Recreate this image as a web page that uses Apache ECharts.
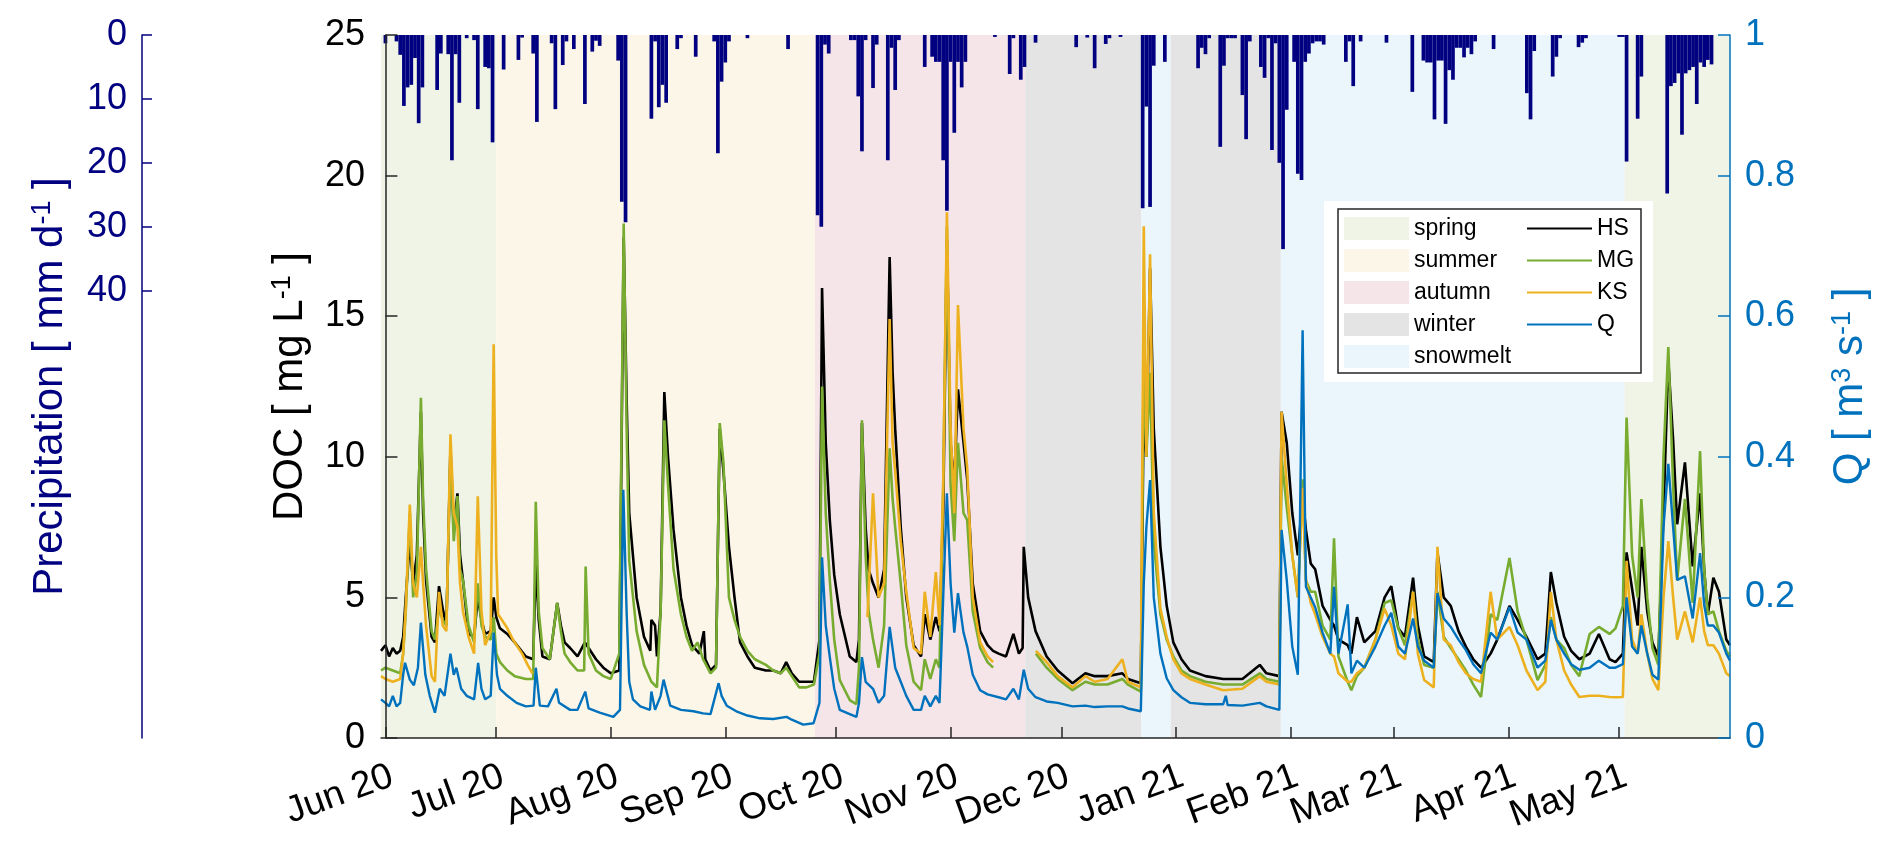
<!DOCTYPE html>
<html>
<head>
<meta charset="utf-8">
<script src="https://cdn.jsdelivr.net/npm/echarts@6/dist/echarts.min.js"></script>
<style>
html,body{margin:0;padding:0;background:#fff;}
#chart{width:1892px;height:849px;}
</style>
</head>
<body>
<div id="chart"></div>
<script>
// x values are days since 2020-06-01
const monthTicks = [0,30,61,92,122,153,183,214,245,273,304,334];
const monthLabels = ['Jun 20','Jul 20','Aug 20','Sep 20','Oct 20','Nov 20','Dec 20','Jan 21','Feb 21','Mar 21','Apr 21','May 21'];
const precipTicks = [0,10,20,30,40];

// season spans [startDay, endDay]
const springSpans = [[-1.2,30],[335.4,364]];
const summerSpans = [[30,116.3]];
const autumnSpans = [[116.3,173.2]];
const winterSpans = [[173.2,204.6],[212.5,242.4]];
const snowmeltSpans = [[204.6,212.5],[242.4,335.4]];

// daily precipitation (mm/d)
const precipDays = [0,3,4,5,6,7,8,9,10,14,15,17,18,19,20,22,24,25,27,28,29,32,36,37,40,41,45,46,48,49,51,54,56,57,58,63,64,65,72,73,74,75,76,79,80,84,89,90,91,92,93,98,109,117,118,119,120,126,127,128,129,130,132,133,136,137,138,139,146,148,149,150,151,152,153,154,155,156,157,165,169,170,172,173,176,187,190,192,195,196,199,205,206,207,208,211,220,221,222,223,226,227,228,229,230,232,233,234,237,238,239,240,241,242,243,244,246,247,248,249,250,251,252,253,254,260,261,262,264,271,278,281,282,283,284,285,286,287,288,289,290,291,292,293,294,295,300,309,310,311,316,317,318,323,324,325,334,335,336,339,340,347,348,349,350,351,352,353,354,355,356,357,358,359];
const precipMM = [1.3,1.0,3.1,11.1,8.2,7.8,3.6,13.8,8.2,8.6,2.9,3.0,19.6,3.0,10.6,0.5,0.8,11.6,5.0,5.2,16.8,5.4,3.9,0.4,2.9,13.6,1.3,11.6,4.7,1.0,2.2,10.8,2.6,0.9,1.7,4.0,26.1,29.3,13.1,1.0,11.3,7.8,10.6,2.2,0.5,3.4,1.0,18.5,7.3,4.3,1.0,0.5,2.2,28.2,30.0,1.5,2.9,0.8,0.8,9.6,18.2,0.8,8.3,1.5,19.6,2.0,8.6,0.8,5.0,3.4,4.2,4.2,19.6,27.5,4.2,15.3,4.2,8.2,4.2,0.3,6.1,0.5,7.0,5.0,1.2,1.9,0.4,5.2,1.4,0.5,0.3,27.1,11.2,26.9,4.8,4.2,5.2,2.0,3.0,0.5,17.5,4.8,0.5,0.5,0.5,9.4,16.3,1.0,5.0,6.7,0.5,18.0,1.3,20.0,33.5,11.7,4.2,21.7,22.7,4.2,2.9,1.3,1.0,1.0,1.5,4.2,1.0,8.0,1.0,1.2,8.9,4.0,4.3,4.3,13.2,4.0,4.0,13.9,5.5,7.0,2.0,2.0,3.5,2.0,3.0,1.0,2.2,9.1,13.2,2.5,6.5,3.4,0.5,1.9,1.2,0.5,0.3,0.3,19.8,13.1,6.5,24.8,8.0,7.5,6.0,15.6,6.0,5.5,5.0,10.8,4.3,5.0,3.9,4.6];

// DOC (mg/L) as [day, value]
const hsDOC = [[-1.2,3.1],[0,3.3],[1,2.9],[2,3.2],[3,3.0],[4,3.1],[4.8,3.6],[5.5,5.0],[6.6,7.0],[7.5,5.5],[8.5,6.5],[9.6,11.6],[10.2,8.0],[11,5.6],[12.5,3.6],[13.4,3.4],[14.5,5.4],[15.5,4.6],[16.5,4.0],[17.6,10.3],[18.5,7.5],[19.5,8.7],[20.2,6.5],[21,5.6],[22.5,3.7],[24,3.6],[25,5.0],[26,4.2],[27,3.7],[28.5,3.8],[29.3,5.0],[30,4.3],[31,3.9],[33,3.7],[35,3.4],[38,2.9],[40,2.8],[40.7,6.2],[41.5,4.2],[42.5,2.9],[44.5,2.8],[46.5,4.8],[47.5,4.0],[48.5,3.4],[50,3.2],[52,2.9],[54,3.4],[55,3.2],[57,2.8],[59,2.5],[61,2.3],[63.3,2.4],[64.5,17.8],[65.3,12.0],[66,8.0],[68,5.0],[70,3.6],[71.7,3.1],[72,4.2],[73,4.0],[73.5,2.9],[74.5,4.5],[75.5,12.3],[76.5,10.0],[78,7.4],[80,5.0],[81.5,4.0],[83,3.3],[85,3.0],[86.2,3.8],[86.6,2.8],[88,2.4],[89.5,2.6],[90.5,11.0],[91.5,9.5],[93,6.8],[94.5,5.0],[96,3.4],[98,2.9],[100,2.5],[103,2.4],[105,2.4],[107,2.3],[108.5,2.7],[110,2.3],[112,2.0],[114,2.0],[116,2.0],[117.5,3.5],[118.2,16.0],[119.2,10.5],[120.3,7.75],[121.5,5.8],[123,4.4],[125.7,2.9],[127.5,2.7],[128.2,3.5],[129,11.2],[130,7.5],[130.8,6.0],[132,5.5],[133.5,5.0],[135,6.0],[136.5,17.1],[137.3,13.0],[138,11.0],[139.5,7.5],[141,5.0],[143,3.3],[145,2.9],[146,4.4],[147.5,3.5],[149,4.3],[150,3.8],[151,8.0],[152,17.7],[153,10.5],[154,9.0],[155,12.4],[156.5,10.5],[157.5,9.2],[159,5.5],[161,3.8],[163,3.3],[164.5,3.1],[166,3.0],[168,2.9],[170,3.7],[171.5,3.0],[172.5,3.2],[172.8,6.8],[174,5.0],[176,3.8],[179,2.9],[182,2.4],[186,1.95],[189.5,2.3],[192,2.2],[195.5,2.2],[199.5,2.3],[201,2.1],[204.5,1.95],[205.3,12.0],[206,10.0],[207,16.7],[208,11.0],[209.8,6.8],[211.5,4.7],[213.3,3.4],[215.5,2.8],[217.8,2.4],[222,2.2],[226.8,2.1],[232,2.1],[236.7,2.6],[238.5,2.3],[242,2.2],[242.6,11.6],[244,10.5],[245.5,8.0],[247,6.5],[248.3,8.6],[249.2,7.4],[250.5,6.2],[251.7,6.0],[253.7,4.7],[255.8,4.2],[256.8,4.0],[258,3.5],[260.5,3.3],[261.5,3.0],[263,4.3],[265,3.4],[268,3.8],[270.5,5.0],[272.3,5.4],[274.2,3.9],[276,3.6],[278.2,5.7],[279.5,4.0],[281.2,2.9],[283.8,2.7],[284.8,6.6],[286.5,5.0],[288.4,4.7],[290.5,3.8],[292.5,3.25],[294.5,2.8],[296.6,2.5],[299.2,3.0],[301,3.5],[304.3,4.7],[306.5,4.2],[308.9,3.6],[311.9,2.8],[314,3.0],[315.5,5.9],[317,4.8],[319.1,3.6],[321,3.1],[323.2,2.8],[326,3.0],[328.5,3.7],[331.4,2.8],[333,2.7],[335,3.0],[336,6.6],[337.5,5.3],[339,4.0],[340,6.8],[341.6,4.5],[343,3.4],[344.6,2.9],[346,8.0],[347.3,13.4],[348.6,10.6],[349.7,7.6],[351.8,9.8],[353.9,6.1],[355.9,8.7],[357,6.0],[358,4.4],[359.5,5.7],[361,5.2],[363,3.5],[364,3.3]];

const mgDOC = [[-1.2,2.4],[0,2.5],[2,2.4],[4,2.3],[4.8,3.0],[5.5,4.5],[6.6,8.0],[7.5,5.0],[8.5,5.8],[9.6,12.1],[10.2,8.5],[11,6.0],[12.5,3.8],[13.4,3.5],[14.5,4.6],[15.5,4.2],[16.5,4.0],[17.6,10.0],[18.5,7.0],[19.5,8.6],[20.2,6.0],[21,5.6],[22.5,4.0],[24,3.4],[25,5.5],[26,4.0],[27,3.6],[28.5,3.5],[29.3,4.3],[30,3.0],[31,2.7],[33,2.4],[35,2.2],[38,2.1],[40,2.1],[40.7,8.4],[41.5,4.5],[42.5,3.2],[44.5,2.8],[46.5,4.8],[47.5,3.8],[48.5,3.0],[50,2.7],[52,2.4],[53.8,2.4],[54.2,6.1],[55,3.0],[57,2.4],[59,2.2],[61,2.1],[63.3,3.0],[64.5,18.3],[65.3,11.0],[66,6.3],[68,3.8],[70,2.6],[72,2.0],[73.5,1.8],[74.5,4.5],[75.5,11.3],[76.5,9.0],[78,6.0],[80,4.4],[81.5,3.6],[83,3.1],[84.5,3.4],[86,2.8],[88,2.3],[89.5,2.5],[90.5,11.2],[91.5,9.8],[93,5.0],[94.5,4.2],[96,3.6],[98,3.1],[100,2.8],[103,2.6],[105,2.4],[107,2.3],[108.5,2.5],[110,2.2],[112,1.8],[114,1.8],[116,1.9],[117.5,3.0],[118.2,12.5],[119.2,8.0],[120.3,5.6],[121.5,3.5],[123,2.06],[125.7,1.35],[127.5,1.2],[128.2,2.5],[129,11.3],[130,6.5],[130.8,4.5],[132,3.5],[133.5,2.5],[135,4.0],[136.5,10.3],[137.3,8.5],[138,7.5],[139.5,5.5],[141,3.3],[143,2.0],[145,1.7],[146,2.8],[147.5,2.1],[149,2.8],[150,2.5],[151,9.0],[152,18.2],[153,9.0],[154,7.0],[155,10.5],[156.5,8.0],[157.5,7.75],[159,4.5],[161,3.2],[163,2.7],[164.5,2.5],[170,null],[176.1,3.0],[179,2.5],[182,2.1],[186,1.7],[189.5,2.0],[192,1.9],[195.5,1.9],[199.5,2.1],[201,1.9],[204.5,1.65],[205.3,14.0],[206,10.0],[207,13.0],[208,7.0],[209.8,4.4],[211.5,3.5],[213.3,2.9],[215.5,2.4],[217.8,2.2],[222,2.0],[226.8,1.9],[232,1.9],[236.7,2.3],[238.5,2.1],[242,2.0],[242.6,10.0],[244,8.2],[245.5,6.5],[247,5.0],[248.3,9.2],[249.2,5.6],[250.5,5.2],[251.7,5.2],[253.7,4.0],[255.8,3.5],[256.8,7.1],[258,2.9],[260.5,2.0],[261.5,1.7],[263,2.2],[265,2.5],[268,3.5],[270.5,4.8],[272.3,4.9],[274.2,3.9],[276,3.3],[278.2,5.2],[279.5,3.5],[281.2,2.6],[283.8,2.5],[284.8,5.2],[286.5,3.6],[288.4,3.2],[290.5,2.8],[292.5,2.4],[294.5,1.9],[296.6,1.46],[299.2,4.4],[301,4.2],[304.3,6.4],[306.5,4.5],[308.9,3.5],[311.9,2.06],[314,2.6],[315.5,4.3],[317,3.5],[319.1,3.2],[321,2.6],[323.2,2.2],[326,3.7],[328.5,3.95],[331.4,3.7],[333,3.9],[335,4.7],[336,11.4],[337.5,6.5],[339,5.0],[340,8.5],[341.6,5.0],[343,3.2],[344.6,2.6],[346,10.0],[347.3,13.9],[348.6,9.0],[349.7,5.6],[351.8,8.5],[353.9,4.8],[355.9,10.2],[357,6.0],[358,4.4],[359.5,4.5],[361,3.8],[363,3.1],[364,2.9]];

const ksDOC = [[-1.2,2.2],[0,2.1],[2,2.0],[4,2.1],[4.8,3.0],[5.5,4.6],[6.6,8.3],[7.5,5.5],[8.5,5.0],[9.6,6.8],[10.2,5.5],[11,4.0],[12.5,2.2],[13.4,2.0],[14.5,5.2],[15.5,4.0],[16.5,3.8],[17.6,10.8],[18.5,8.0],[19.5,7.5],[20.2,5.5],[21,4.5],[22.5,3.6],[24,3.0],[25,8.6],[26,4.5],[27,3.3],[28.5,3.8],[29.3,14.0],[30,6.5],[30.5,4.4],[31,4.3],[33,3.9],[34.5,3.5],[37,3.0],[38.5,2.6],[39.8,2.3],[80,null],[130.5,4.3],[132,8.7],[133.5,5.0],[135,5.5],[136.5,14.9],[137.3,10.5],[138,9.5],[139.5,7.0],[141,5.2],[143,3.2],[145,3.0],[146,5.2],[147.5,3.6],[149,5.9],[150,4.0],[151,9.0],[152,18.7],[153,11.0],[154,8.0],[155,15.4],[156.5,11.0],[157.5,9.6],[159,5.0],[161,3.4],[163,2.9],[164.5,2.7],[170,null],[176.1,3.1],[179,2.7],[182,2.2],[186,1.8],[189.5,2.2],[192,2.0],[195.5,2.1],[199.5,2.8],[201,2.0],[204.5,1.8],[205.3,18.2],[206,10.0],[207,17.2],[208,8.0],[209.8,4.6],[211.5,3.6],[213.3,2.8],[215.5,2.3],[217.8,2.1],[222,1.9],[226.8,1.7],[232,1.75],[236.7,2.2],[238.5,2.0],[242,1.9],[242.6,11.6],[244,9.0],[245.5,6.5],[247,5.0],[248.3,8.9],[249.2,5.6],[250.5,4.8],[251.7,4.4],[253.7,3.6],[255.8,3.0],[256.8,2.9],[258,2.3],[260.5,2.0],[261.5,2.0],[263,2.3],[265,2.5],[268,3.5],[270.5,4.6],[272.3,4.0],[274.2,3.0],[276,2.8],[278.2,5.2],[279.5,3.0],[281.2,2.06],[283.8,1.8],[284.8,6.8],[286.5,3.5],[288.4,3.3],[290.5,2.7],[292.5,2.3],[294.5,2.1],[296.6,2.0],[299.2,5.2],[301,3.5],[304.3,3.95],[306.5,3.3],[308.9,2.4],[311.9,1.7],[314,2.0],[315.5,5.2],[317,3.5],[319.1,2.4],[321,1.9],[323.2,1.46],[326,1.5],[328.5,1.5],[331.4,1.46],[333,1.45],[335,1.46],[336,6.3],[337.5,3.5],[339,3.0],[340,4.4],[341.6,3.0],[343,2.1],[344.6,1.7],[346,5.0],[347.3,7.0],[348.6,5.0],[349.7,3.5],[351.8,4.5],[353.9,3.4],[355.9,5.0],[357,3.8],[358,3.3],[359.5,3.3],[361,3.0],[363,2.3],[364,2.2]];

// discharge Q (m3/s) as [day, value]
const qDis = [[-1.2,0.055],[0,0.05],[1,0.045],[2,0.06],[3,0.045],[4,0.05],[4.8,0.09],[5.3,0.107],[6.6,0.083],[7.7,0.075],[8.8,0.1],[9.6,0.164],[10.8,0.09],[12,0.06],[13.4,0.036],[14.7,0.07],[16,0.06],[17.6,0.12],[18.5,0.09],[19.2,0.1],[20.5,0.07],[22,0.06],[24,0.055],[25.1,0.107],[26,0.07],[27,0.055],[28.5,0.06],[29.3,0.15],[30.2,0.09],[31,0.07],[33,0.06],[35.5,0.05],[38,0.045],[40.1,0.046],[40.7,0.1],[41.8,0.046],[44,0.045],[46.3,0.07],[47,0.05],[50,0.04],[52,0.04],[54.1,0.066],[55,0.042],[58,0.036],[61.7,0.03],[63.5,0.04],[64.4,0.353],[65.3,0.178],[66,0.08],[67,0.055],[69,0.045],[71.6,0.04],[72,0.066],[73,0.04],[74.5,0.06],[75.3,0.083],[77.1,0.046],[80,0.04],[83.4,0.038],[86,0.035],[88,0.034],[90.2,0.078],[91,0.06],[92.4,0.046],[95,0.038],[98,0.032],[101.4,0.028],[105,0.027],[108.6,0.03],[110,0.026],[113.1,0.019],[115.9,0.021],[117.5,0.05],[118.2,0.257],[119.2,0.16],[120.3,0.115],[121.5,0.07],[123,0.04],[125.7,0.034],[127.5,0.03],[128.2,0.05],[129,0.115],[130,0.08],[132,0.07],[133.5,0.05],[135,0.06],[136.5,0.158],[138,0.1],[139.5,0.08],[141,0.06],[143,0.04],[145,0.04],[146,0.06],[147.5,0.045],[149,0.06],[150,0.05],[151,0.2],[152,0.348],[153,0.22],[154,0.15],[155,0.206],[156.5,0.15],[157.5,0.13],[159,0.09],[161,0.068],[163,0.062],[166,0.058],[168,0.055],[170,0.07],[171.5,0.055],[172.8,0.097],[174,0.07],[176,0.058],[179,0.052],[182,0.05],[186,0.045],[189.5,0.046],[192,0.044],[195.5,0.045],[199.5,0.045],[201,0.042],[204.5,0.038],[205.3,0.22],[206,0.3],[207,0.367],[208,0.2],[209.8,0.12],[211.5,0.085],[213.3,0.068],[215.5,0.058],[217.8,0.05],[222,0.048],[226.8,0.048],[227.5,0.06],[228,0.047],[232,0.046],[236.7,0.05],[238.5,0.045],[242,0.04],[242.6,0.296],[244,0.225],[245.5,0.13],[247,0.09],[248.3,0.58],[249.2,0.215],[250.5,0.2],[251.7,0.186],[253.7,0.15],[255.8,0.12],[256.8,0.215],[258,0.12],[260.5,0.19],[261.5,0.092],[263,0.11],[265,0.1],[268,0.13],[270.5,0.16],[272.3,0.178],[274.2,0.13],[276,0.12],[278.2,0.17],[279.5,0.13],[281.2,0.11],[283.8,0.1],[284.8,0.206],[286.5,0.17],[288.4,0.158],[290.5,0.14],[292.5,0.125],[294.5,0.105],[296.6,0.092],[299.2,0.15],[301,0.14],[304.3,0.186],[306.5,0.15],[308.9,0.14],[311.9,0.1],[314,0.11],[315.5,0.168],[317,0.14],[319.1,0.12],[321,0.105],[323.2,0.097],[326,0.1],[328.5,0.11],[331.4,0.1],[333,0.1],[335,0.105],[336,0.2],[337.5,0.13],[339,0.12],[340,0.16],[341.6,0.12],[343,0.09],[344.6,0.083],[346,0.3],[347.3,0.39],[348.6,0.3],[349.7,0.225],[351.8,0.23],[353.9,0.17],[355.9,0.263],[357,0.19],[358,0.16],[359.5,0.16],[361,0.15],[363,0.12],[364,0.11]];

const FONT = '"Liberation Sans", Arial, Helvetica, sans-serif';
const NAVY = '#000080';
const QBLUE = '#0072BD';
const AXC = '#262626';
const LINE_ICON = 'path://M0,0H65V2.2H0Z';

function renderSpan(params, api) {
  const a = api.coord([api.value(0), 0]);
  const b = api.coord([api.value(1), 0]);
  const cs = params.coordSys;
  return {type: 'rect', shape: {x: a[0], y: cs.y, width: b[0] - a[0], height: cs.height},
          style: {fill: api.visual('color')}};
}
function seasonSeries(name, spans, color) {
  return {name: name, type: 'custom', renderItem: renderSpan, data: spans,
          encode: {x: [0, 1]}, itemStyle: {color: color}, z: 1, silent: true, clip: true};
}

const chart = echarts.init(document.getElementById('chart'), null, {renderer: 'canvas'});
const option = {
  animation: false,
  backgroundColor: '#ffffff',
  textStyle: {fontFamily: FONT},
  grid: {left: 381, top: 35, width: 1349, height: 703, containLabel: false},
  xAxis: {
    type: 'value', min: -1.2, max: 364, z: 10,
    axisLine: {show: true, lineStyle: {color: AXC, width: 1.5}},
    axisTick: {show: true, inside: true, length: 11, customValues: monthTicks, lineStyle: {color: AXC, width: 1.5}},
    axisLabel: {customValues: monthTicks, rotate: 20, align: 'right', verticalAlign: 'top', margin: 20,
      fontSize: 37, color: '#000', fontFamily: FONT,
      formatter: function (v) { const i = monthTicks.indexOf(v); return i >= 0 ? monthLabels[i] : ''; }},
    splitLine: {show: false}
  },
  yAxis: [
    { type: 'value', position: 'left', min: 0, max: 25, interval: 5, z: 10,
      axisLine: {show: true, lineStyle: {color: AXC, width: 1.5}},
      axisTick: {show: true, inside: true, length: 12, lineStyle: {color: AXC, width: 1.5}},
      axisLabel: {fontSize: 36, color: '#000', margin: 16, fontFamily: FONT},
      splitLine: {show: false},
      name: 'DOC [ mg L{s|-1} ]', nameLocation: 'middle', nameRotate: 90, nameGap: 70,
      nameTextStyle: {fontSize: 42, color: '#000', fontFamily: FONT,
        rich: {s: {fontSize: 27, verticalAlign: 'top', color: '#000', fontFamily: FONT}}}
    },
    { type: 'value', position: 'left', offset: 239, inverse: true, min: 0, max: 110, z: 10,
      axisLine: {show: true, lineStyle: {color: NAVY, width: 1.5}},
      axisTick: {show: true, inside: true, length: 10, customValues: precipTicks, lineStyle: {color: NAVY, width: 1.5}},
      axisLabel: {customValues: precipTicks, fontSize: 36, color: NAVY, margin: 15, fontFamily: FONT,
        formatter: function (v) { return v <= 40 ? String(v) : ''; }},
      splitLine: {show: false},
      name: 'Precipitation [ mm d{s|-1} ]', nameLocation: 'middle', nameRotate: 90, nameGap: 71,
      nameTextStyle: {fontSize: 42, color: NAVY, fontFamily: FONT,
        rich: {s: {fontSize: 27, verticalAlign: 'top', color: NAVY, fontFamily: FONT}}}
    },
    { type: 'value', position: 'right', min: 0, max: 1, interval: 0.2, z: 10,
      axisLine: {show: true, lineStyle: {color: QBLUE, width: 1.5}},
      axisTick: {show: true, inside: true, length: 12, lineStyle: {color: QBLUE, width: 1.5}},
      axisLabel: {fontSize: 36, color: QBLUE, margin: 15, fontFamily: FONT},
      splitLine: {show: false},
      name: 'Q [ m{s|3} s{s|-1} ]', nameLocation: 'middle', nameRotate: 90, nameGap: 99,
      nameTextStyle: {fontSize: 42, color: QBLUE, fontFamily: FONT,
        rich: {s: {fontSize: 27, verticalAlign: 'top', color: QBLUE, fontFamily: FONT}}}
    }
  ],
  legend: [
    { data: ['spring','summer','autumn','winter','snowmelt'].map(n => ({name: n, icon: 'rect'})),
      orient: 'vertical', left: 1344, top: 217, itemWidth: 65, itemHeight: 23, itemGap: 9,
      padding: 0, selectedMode: false, z: 30,
      textStyle: {fontSize: 23, color: '#000', fontFamily: FONT} },
    { data: ['HS','MG','KS','Q'].map(n => ({name: n, icon: LINE_ICON})),
      orient: 'vertical', left: 1527, top: 217, itemWidth: 65, itemHeight: 23, itemGap: 9,
      padding: 0, selectedMode: false, z: 30,
      textStyle: {fontSize: 23, color: '#000', fontFamily: FONT} }
  ],
  graphic: [
    {type: 'rect', z: 20, shape: {x: 1324, y: 201, width: 329, height: 181}, style: {fill: '#ffffff'}},
    {type: 'rect', z: 21, shape: {x: 1338, y: 209, width: 303, height: 164}, style: {fill: 'none', stroke: AXC, lineWidth: 1.5}}
  ],
  series: [
    seasonSeries('spring', springSpans, '#eff4e6'),
    seasonSeries('summer', summerSpans, '#fcf6e8'),
    seasonSeries('autumn', autumnSpans, '#f5e5e8'),
    seasonSeries('winter', winterSpans, '#e4e4e4'),
    seasonSeries('snowmelt', snowmeltSpans, '#ebf6fc'),
    { name: 'Precipitation', type: 'bar', yAxisIndex: 1, barWidth: 3.7, z: 2,
      itemStyle: {color: NAVY}, silent: true,
      data: precipDays.map((d, i) => [d, precipMM[i]]) },
    { name: 'HS', type: 'line', yAxisIndex: 0, data: hsDOC, symbol: 'none', z: 3,
      lineStyle: {color: '#000000', width: 2.6}, itemStyle: {color: '#000000'}, connectNulls: false },
    { name: 'MG', type: 'line', yAxisIndex: 0, data: mgDOC, symbol: 'none', z: 4,
      lineStyle: {color: '#77AC30', width: 2.6}, itemStyle: {color: '#77AC30'}, connectNulls: false },
    { name: 'KS', type: 'line', yAxisIndex: 0, data: ksDOC, symbol: 'none', z: 5,
      lineStyle: {color: '#EDB120', width: 2.6}, itemStyle: {color: '#EDB120'}, connectNulls: false },
    { name: 'Q', type: 'line', yAxisIndex: 2, data: qDis, symbol: 'none', z: 6,
      lineStyle: {color: QBLUE, width: 2.4}, itemStyle: {color: QBLUE}, connectNulls: false }
  ]
};
chart.setOption(option);
</script>
</body>
</html>
